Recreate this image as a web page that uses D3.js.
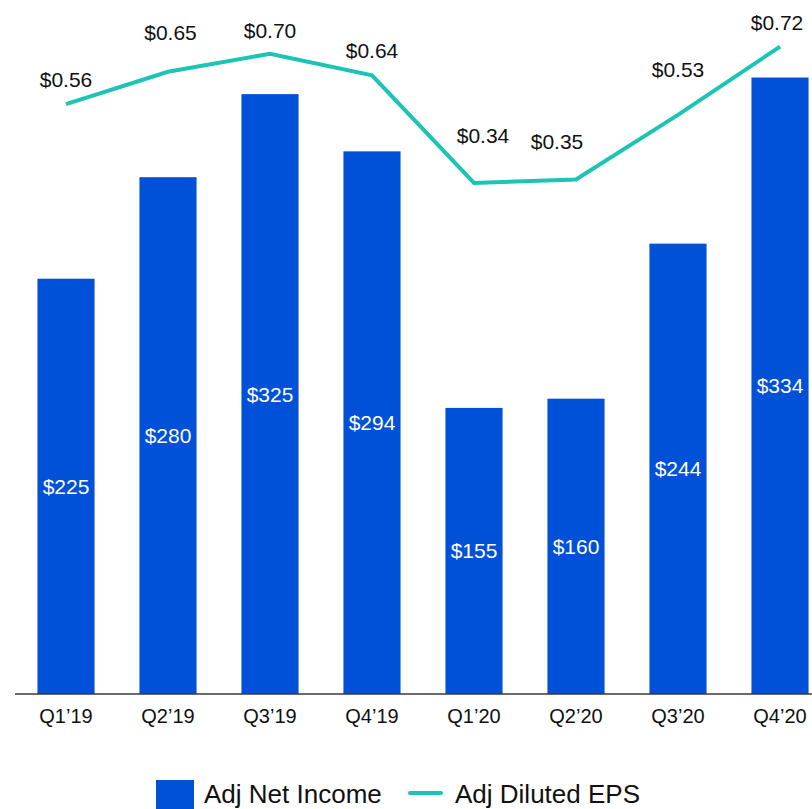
<!DOCTYPE html>
<html>
<head>
<meta charset="utf-8">
<script src="https://cdn.jsdelivr.net/npm/d3@7"></script>
<style>
  html, body { margin: 0; padding: 0; background: #fff; }
  svg { display: block; font-family: Arial, "Liberation Sans", sans-serif; }
</style>
</head>
<body>
<svg id="chart" width="812" height="809"></svg>
<script>
// Quarterly adjusted net income ($M) and adjusted diluted EPS ($)
const quarters = ["Q1\u201919", "Q2\u201919", "Q3\u201919", "Q4\u201919", "Q1\u201920", "Q2\u201920", "Q3\u201920", "Q4\u201920"];
const netIncome = [225, 280, 325, 294, 155, 160, 244, 334];
const dilutedEps = [0.56, 0.65, 0.70, 0.64, 0.34, 0.35, 0.53, 0.72];
const legendLabels = ["Adj Net Income", "Adj Diluted EPS"];

const BAR_COLOR = "#0050d8";
const LINE_COLOR = "#1cc4b6";

const svg = d3.select("#chart");
const baseY = 694;

const x = d3.scaleBand()
  .domain(quarters)
  .range([15, 831])
  .paddingInner(0.44)
  .paddingOuter(0.22);

const yBar = d3.scaleLinear().domain([0, 376]).range([baseY, 0]);
const yEps = d3.scaleLinear().domain([0, 0.85]).range([305, 0]);

const rows = quarters.map((q, i) => ({ q, income: netIncome[i], eps: dilutedEps[i] }));

// Bars
svg.append("g")
  .selectAll("rect")
  .data(rows)
  .join("rect")
  .attr("x", d => x(d.q))
  .attr("y", d => yBar(d.income))
  .attr("width", x.bandwidth())
  .attr("height", d => baseY - yBar(d.income))
  .attr("fill", BAR_COLOR);

// Bar value labels, centred inside each bar
svg.append("g")
  .selectAll("text")
  .data(rows)
  .join("text")
  .attr("x", d => x(d.q) + x.bandwidth() / 2)
  .attr("y", d => (baseY + yBar(d.income)) / 2 + 7.5)
  .attr("text-anchor", "middle")
  .attr("font-size", 21)
  .attr("fill", "#fff")
  .text(d => "$" + d.income);

// X axis
const xAxis = svg.append("g")
  .attr("transform", `translate(0,${baseY})`)
  .call(d3.axisBottom(x).tickSize(0).tickPadding(0));
xAxis.select(".domain").remove();
xAxis.append("line")
  .attr("x1", 15).attr("x2", 812)
  .attr("y1", 0).attr("y2", 0)
  .attr("stroke", "#3a3a3a")
  .attr("stroke-width", 1.5);
xAxis.selectAll(".tick text")
  .attr("dy", null)
  .attr("y", 29)
  .attr("font-size", 20)
  .attr("font-family", "Arial, 'Liberation Sans', sans-serif")
  .attr("fill", "#111");

// EPS line
const cx = d => x(d.q) + x.bandwidth() / 2;
svg.append("path")
  .datum(rows)
  .attr("fill", "none")
  .attr("stroke", LINE_COLOR)
  .attr("stroke-width", 4)
  .attr("stroke-linejoin", "miter")
  .attr("d", d3.line().x(cx).y(d => yEps(d.eps)));

// EPS labels: hand-tuned nudges keep them clear of the line
const labelNudge = [[0, 17.5], [2.5, 31.7], [0, 16.2], [0, 17.3], [9, 39.7], [-19, 30.7], [0, 38], [-3, 17]];
svg.append("g")
  .selectAll("text")
  .data(rows)
  .join("text")
  .attr("x", (d, i) => cx(d) + labelNudge[i][0])
  .attr("y", (d, i) => yEps(d.eps) - labelNudge[i][1])
  .attr("text-anchor", "middle")
  .attr("font-size", 21)
  .attr("fill", "#111")
  .text(d => "$" + d.eps.toFixed(2));

// Legend
const legend = svg.append("g");
legend.append("rect")
  .attr("x", 156).attr("y", 780)
  .attr("width", 38).attr("height", 30)
  .attr("fill", BAR_COLOR);
legend.append("text")
  .attr("x", 204).attr("y", 803)
  .attr("font-size", 26)
  .attr("fill", "#111")
  .text(legendLabels[0]);
legend.append("line")
  .attr("x1", 410).attr("x2", 441)
  .attr("y1", 793).attr("y2", 793)
  .attr("stroke", LINE_COLOR)
  .attr("stroke-width", 4)
  .attr("stroke-linecap", "round");
legend.append("text")
  .attr("x", 455).attr("y", 803)
  .attr("font-size", 26)
  .attr("fill", "#111")
  .text(legendLabels[1]);
</script>
</body>
</html>
